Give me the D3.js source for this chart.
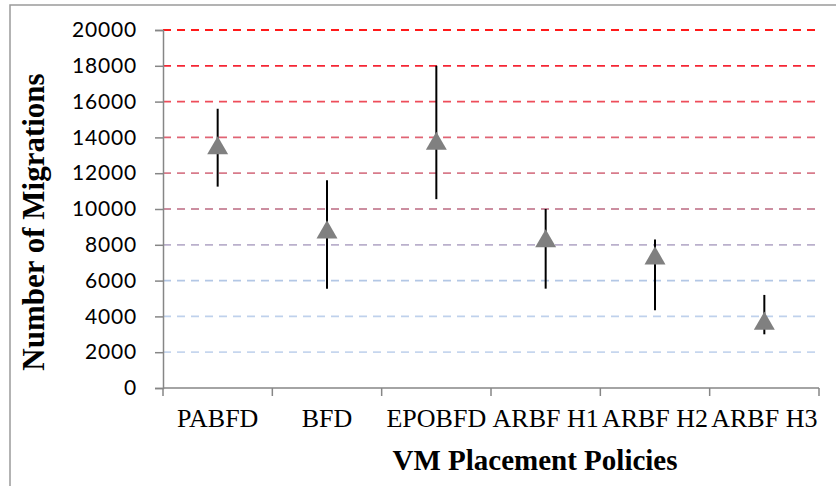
<!DOCTYPE html>
<html>
<head>
<meta charset="utf-8">
<script src="https://cdn.jsdelivr.net/npm/d3@7"></script>
<style>
  html, body { margin: 0; padding: 0; background: #fff; }
  svg { display: block; }
</style>
</head>
<body>
<svg id="chart" width="836" height="486"></svg>
<script>
// Placement policies and their migration counts (mean with min/max range)
const policies = ["PABFD", "BFD", "EPOBFD", "ARBF H1", "ARBF H2", "ARBF H3"];
const meanMigrations = [13450, 8750, 13700, 8250, 7300, 3650];
const minMigrations  = [11250, 5550, 10550, 5550, 4350, 3000];
const maxMigrations  = [15600, 11600, 18000, 10000, 8300, 5200];
const yTicks = [0, 2000, 4000, 6000, 8000, 10000, 12000, 14000, 16000, 18000, 20000];
// Gridline colours, fading from red at the top to pale blue at the bottom
const gridColors = {
  2000: "#c6d6ee", 4000: "#bfd1ec", 6000: "#b3c7e5", 8000: "#bab0cc",
  10000: "#cc8ea0", 12000: "#d87b8b", 14000: "#e06474", 16000: "#ee4d5a",
  18000: "#f52634", 20000: "#ff1a1a"
};

const svg = d3.select("#chart");
const margin = { left: 163, right: 17, top: 30, bottom: 98 };
const W = 836, H = 486;
const plotW = W - margin.left - margin.right;
const plotH = H - margin.top - margin.bottom;

// Outer chart frame
svg.append("rect")
  .attr("x", 10).attr("y", 5)
  .attr("width", 840).attr("height", 500)
  .attr("fill", "none").attr("stroke", "#9a9a9a").attr("stroke-width", 1.5);

const g = svg.append("g").attr("transform", `translate(${margin.left},${margin.top})`);

const x = d3.scaleBand().domain(policies).range([0, plotW]);
const y = d3.scaleLinear().domain([0, 20000]).range([plotH, 0]);

// Dashed horizontal gridlines
g.append("g").selectAll("line")
  .data(yTicks.filter(t => t > 0))
  .join("line")
  .attr("x1", 0).attr("x2", plotW)
  .attr("y1", d => y(d)).attr("y2", d => y(d))
  .attr("stroke", d => gridColors[d])
  .attr("stroke-width", 1.8)
  .attr("stroke-dasharray", "8,6");

// Y axis
const yAxis = g.append("g")
  .call(d3.axisLeft(y).tickValues(yTicks).tickSize(8).tickPadding(18).tickFormat(d3.format("d")));
yAxis.select(".domain").attr("stroke", "#868686").attr("stroke-width", 1.5);
yAxis.selectAll(".tick line").attr("stroke", "#868686").attr("stroke-width", 1.5);
yAxis.selectAll(".tick text")
  .attr("font-family", "Lato, 'Open Sans', sans-serif")
  .attr("font-size", 21)
  .attr("letter-spacing", 0.8)
  .attr("fill", "#000");

// X axis: ticks sit on the category boundaries
const bounds = d3.range(policies.length + 1).map(i => i * x.step());
const xAxisG = g.append("g").attr("transform", `translate(0,${plotH})`);
xAxisG.append("line")
  .attr("x1", 0).attr("x2", plotW).attr("y1", 0).attr("y2", 0)
  .attr("stroke", "#868686").attr("stroke-width", 1.5);
xAxisG.selectAll("line.tk").data(bounds).join("line")
  .attr("class", "tk")
  .attr("x1", d => d).attr("x2", d => d)
  .attr("y1", 0).attr("y2", 8)
  .attr("stroke", "#868686").attr("stroke-width", 1.5);
xAxisG.selectAll("text").data(policies).join("text")
  .attr("x", d => x(d) + x.bandwidth() / 2)
  .attr("y", 39)
  .attr("text-anchor", "middle")
  .attr("font-family", "'Liberation Serif', 'Times New Roman', serif")
  .attr("font-size", 26)
  .attr("fill", "#000")
  .text(d => d);

// Range whiskers
const rows = policies.map((p, i) => ({ p, mean: meanMigrations[i], lo: minMigrations[i], hi: maxMigrations[i] }));
g.append("g").selectAll("line")
  .data(rows).join("line")
  .attr("x1", d => x(d.p) + x.bandwidth() / 2)
  .attr("x2", d => x(d.p) + x.bandwidth() / 2)
  .attr("y1", d => y(d.lo)).attr("y2", d => y(d.hi))
  .attr("stroke", "#000").attr("stroke-width", 2);

// Triangle markers at the mean
const tri = d3.symbol().type(d3.symbolTriangle).size(190);
g.append("g").selectAll("path")
  .data(rows).join("path")
  .attr("d", tri)
  .attr("transform", d => `translate(${x(d.p) + x.bandwidth() / 2},${y(d.mean) + 1})`)
  .attr("fill", "#808080");

// Axis titles
svg.append("text")
  .attr("transform", "translate(44,222) rotate(-90)")
  .attr("text-anchor", "middle")
  .attr("font-family", "'Liberation Serif', 'Times New Roman', serif")
  .attr("font-weight", "bold")
  .attr("font-size", 31)
  .attr("fill", "#000")
  .text("Number of Migrations");

svg.append("text")
  .attr("x", 535).attr("y", 470)
  .attr("text-anchor", "middle")
  .attr("font-family", "'Liberation Serif', 'Times New Roman', serif")
  .attr("font-weight", "bold")
  .attr("font-size", 29)
  .attr("fill", "#000")
  .text("VM Placement Policies");
</script>
</body>
</html>
